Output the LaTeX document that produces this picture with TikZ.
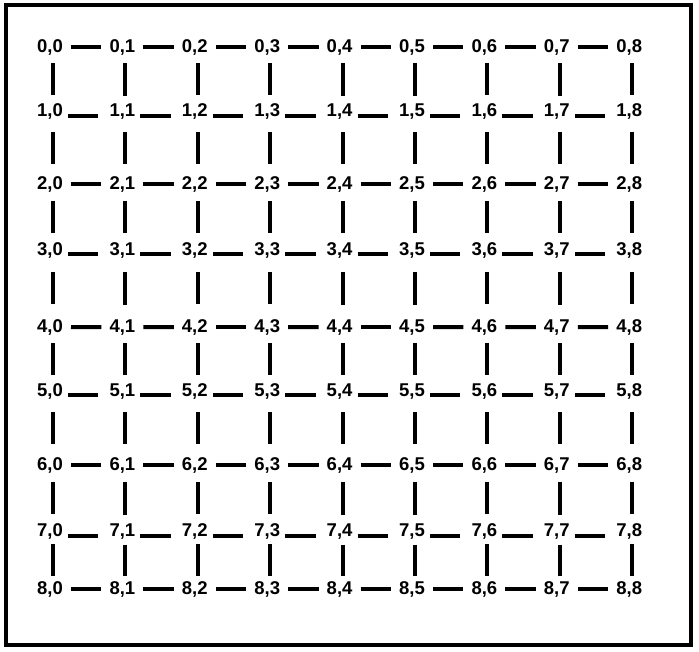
\documentclass[tikz,border=0pt]{standalone}
\usepackage{fontspec}
\setmainfont{Liberation Sans}
\usetikzlibrary{positioning}

\begin{document}
\begin{tikzpicture}[x=1pt, y=-1pt, line width=4pt,
  uzel/.style={font=\fontsize{18.5}{20}\selectfont\bfseries, anchor=base,
    inner sep=0pt},
  vodorovny/.style={shorten <=21pt, shorten >=21pt}]
  \useasboundingbox (0,0) rectangle (699,651);

  % Rámeček
  \draw (5.5,5.3) rectangle (691,644.7);

  % Uzly mřížky (středy číslic po řádcích)
  \def\radky{{46,110,182.5,248.5,325.5,389.5,464,530,588}}
  \foreach \r in {0,...,8} {
    \pgfmathsetmacro\ry{\radky[\r]+6.5}
    \foreach \c in {0,...,8}
      \node[uzel] (n\r\c) at ({50+72.4*\c},\ry) {\r,\c};
  }

  % Vodorovné spoje -- sudé řádky uprostřed
  \foreach \r in {0,2,4,6,8}
    \foreach \c [count=\d from 1] in {0,...,7}
      \draw[vodorovny] (n\r\c.center) -- (n\r\d.center);

  % Vodorovné spoje -- liché řádky na účaří
  \foreach \r in {1,3,5,7}
    \foreach \c [count=\d from 1] in {0,...,7}
      \draw[vodorovny] ([shift={(-3,-1)}]n\r\c.base) -- ([shift={(-3,-1)}]n\r\d.base);

  % Svislé spoje
  \foreach \r [count=\s from 1] in {0,...,7} {
    \pgfmathsetmacro\horni{\radky[\r]}
    \pgfmathsetmacro\dolni{\radky[\s]}
    \pgfmathsetmacro\zkr{(\dolni-\horni)/2-16}
    \foreach \c in {0,...,8}
      \draw[shorten <=\zkr pt, shorten >=\zkr pt]
        ([xshift=3pt]n\r\c.center) -- ([xshift=3pt]n\s\c.center);
  }
\end{tikzpicture}
\end{document}
